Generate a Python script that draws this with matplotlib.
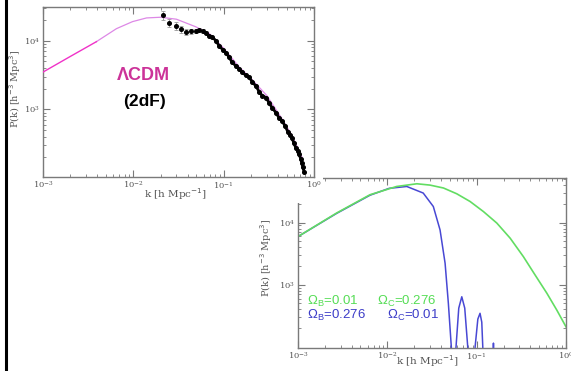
import matplotlib
matplotlib.use("Agg")
import matplotlib.pyplot as plt
from matplotlib.patches import Rectangle
from matplotlib.lines import Line2D

# top panel: LambdaCDM model + 2dF points
lcdm_k_low = [0.001, 0.002, 0.0039]
lcdm_P_low = [3500, 5900, 9700]
lcdm_k = [0.0039, 0.0065, 0.0098, 0.014, 0.02, 0.03, 0.049, 0.069, 0.1,
          0.15, 0.19, 0.3, 0.44, 0.57, 0.74]
lcdm_P = [9700, 15000, 19000, 21500, 22000, 20600, 16000, 12800, 7800,
          4100, 3050, 1600, 740, 420, 199]

df_k = [0.0212, 0.0251, 0.0297, 0.0336, 0.0383, 0.0435, 0.049, 0.054, 0.059,
        0.0638, 0.0693, 0.0748, 0.0828, 0.0893, 0.0991, 0.107, 0.115, 0.124,
        0.138, 0.149, 0.160, 0.177, 0.191, 0.207, 0.229, 0.247, 0.267, 0.295,
        0.318, 0.344, 0.380, 0.410, 0.443, 0.478, 0.515, 0.542, 0.570, 0.600,
        0.631, 0.664, 0.682, 0.718, 0.736, 0.755, 0.774]
df_P = [23400, 18400, 16400, 14700, 13500, 13800, 13900, 14200, 13800,
        13100, 11700, 11330, 9900, 8360, 7300, 6590, 5760, 4860,
        4250, 3840, 3470, 3130, 2930, 2550, 2160, 1820, 1590, 1490,
        1250, 1060, 894, 755, 682, 576, 470, 425, 384, 324,
        273, 247, 223, 188, 164, 144, 125]
df_err = [3500, 2600, 2100, 1700, 1400, 1200, 1000, 900, 800,
          600, 500, 400, 300, 250, 200, 180, 150, 130,
          110, 100, 90, 80, 70, 60, 50, 45, 40, 38,
          32, 28, 24, 20, 18, 15, 13, 12, 11, 10,
          9, 8, 8, 7, 6, 6, 5]

# bottom panel: baryon vs CDM dominated spectra
green_k = [0.001, 0.0027, 0.0064, 0.0127, 0.0214, 0.03, 0.0425, 0.0598, 0.0843,
           0.119, 0.168, 0.237, 0.333, 0.451, 0.61, 0.789, 1.0]
green_P = [5940, 14200, 28000, 38000, 42000, 40000, 35900, 29000, 21800,
           15000, 9800, 5600, 2830, 1430, 730, 390, 210]
blue_k = [0.001, 0.0027, 0.0064, 0.0105, 0.0165, 0.0252, 0.0327, 0.0389, 0.0443,
          0.0482, 0.052, 0.0535, 0.0587, 0.063, 0.0681, 0.0735, 0.0794, 0.082,
          0.094, 0.096, 0.103, 0.109, 0.114, 0.117, 0.12, 0.152, 0.154, 0.156]
blue_P = [5940, 14000, 27500, 35500, 38000, 29800, 18100, 7600, 2210,
          500, 100, 10, 100, 420, 640, 420, 100, 10,
          10, 100, 280, 347, 250, 100, 10, 10, 115, 10]

gray = '#555555'
plt.rcParams['font.family'] = 'DejaVu Serif'

fig = plt.figure(figsize=(5.71, 3.71), dpi=100)
ax1 = fig.add_axes([0.0753, 0.5229, 0.4746, 0.4582])
ax2 = fig.add_axes([0.5219, 0.0620, 0.4694, 0.4582])
ax2.set_zorder(0)
ax1.set_zorder(2)

# white block from the pasted top panel hides the corner of the lower one
fig.add_artist(Rectangle((0, 0.4528), 0.5657, 0.5472, facecolor='white',
                         edgecolor='none', transform=fig.transFigure, zorder=1))


def style(ax, label_size):
    ax.set_xscale('log')
    ax.set_yscale('log')
    ax.set_xlim(1e-3, 1)
    for s in ax.spines.values():
        s.set_color('#7a7a7a')
        s.set_linewidth(1.0)
    ax.tick_params(which='both', direction='in', top=True, right=True,
                   colors='#7a7a7a', labelcolor=gray, labelsize=6, pad=2)
    ax.tick_params(which='major', length=5)
    ax.tick_params(which='minor', length=2.5)
    ax.set_xlabel(r'k [h Mpc$^{-1}$]', fontsize=label_size, color=gray)
    ax.set_ylabel(r'P(k) [h$^{-3}$ Mpc$^3$]', fontsize=7, color=gray)


style(ax1, 7.5)
ax1.set_ylim(104, 31000)
ax1.set_yticks([1e3, 1e4])
ax1.plot(lcdm_k, lcdm_P, color='#dd88e6', lw=0.9, zorder=3)
ax1.plot(lcdm_k_low, lcdm_P_low, color='#f032c8', lw=1.0, zorder=3)
ax1.errorbar(df_k[:10], df_P[:10], yerr=df_err[:10], fmt='none', ecolor='#9a9a9a',
             elinewidth=0.7, capsize=1.5, capthick=0.6, zorder=2)
ax1.plot(df_k[9:], df_P[9:], '-', color='black', lw=2.0, zorder=4)
ax1.plot(df_k, df_P, 'o', color='black', ms=2.6, zorder=4)
ax1.text(0.369, 0.60, 'ΛCDM', transform=ax1.transAxes, ha='center', va='center',
         fontsize=13, fontweight='bold', color='#cc3399', family='Liberation Sans')
ax1.text(0.376, 0.447, '(2dF)', transform=ax1.transAxes, ha='center', va='center',
         fontsize=12.5, fontweight='bold', color='black', family='Liberation Sans')
ax1.xaxis.set_label_coords(0.49, -0.055)
ax1.yaxis.set_label_coords(-0.072, 0.52)

style(ax2, 7.5)
ax2.set_ylim(96, 52000)
ax2.set_yticks([1e3, 1e4])
ax2.plot(blue_k, blue_P, color='#4848d4', lw=1.1)
ax2.plot(green_k, green_P, color='#62dd62', lw=1.2)
green_c = '#55dd55'
blue_c = '#3c3cc8'
fs = 9.5
ax2.text(0.034, 0.272, 'Ω$_\\mathregular{B}$=0.01', transform=ax2.transAxes, va='center',
         fontsize=fs, color=green_c, family='Liberation Sans')
ax2.text(0.295, 0.272, 'Ω$_\\mathregular{C}$=0.276', transform=ax2.transAxes, va='center',
         fontsize=fs, color=green_c, family='Liberation Sans')
ax2.text(0.034, 0.19, 'Ω$_\\mathregular{B}$=0.276', transform=ax2.transAxes, va='center',
         fontsize=fs, color=blue_c, family='Liberation Sans')
ax2.text(0.332, 0.19, 'Ω$_\\mathregular{C}$=0.01', transform=ax2.transAxes, va='center',
         fontsize=fs, color=blue_c, family='Liberation Sans')
ax2.xaxis.set_label_coords(0.485, -0.03)
ax2.yaxis.set_label_coords(-0.09, 0.53)

# black rule down the left edge
fig.add_artist(Line2D([6 / 571, 6 / 571], [0, 1], color='black', lw=2.2,
                      transform=fig.transFigure, zorder=5))

fig.savefig('out.png', dpi=100)
